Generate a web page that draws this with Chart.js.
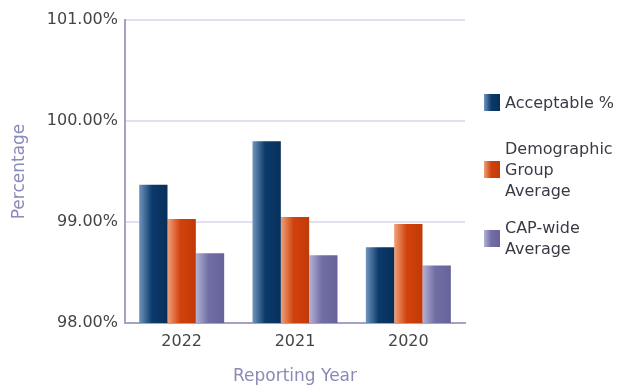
<!DOCTYPE html>
<html>
<head>
<meta charset="utf-8">
<script src="https://cdn.jsdelivr.net/npm/chart.js@4/dist/chart.umd.min.js"></script>
<style>
  html, body { margin: 0; padding: 0; background: #fff; }
  #wrap { position: relative; width: 623px; height: 388px; }
  #legend { position: absolute; left: 484px; top: 0; font-family: "DejaVu Sans", sans-serif; font-size: 16px; color: #3a3a46; }
  .item { position: absolute; left: 0; display: flex; align-items: center; white-space: nowrap; }
  .swatch { width: 16px; height: 17px; margin-right: 5px; flex: none; }
  .txt { line-height: 21px; }
</style>
</head>
<body>
<div id="wrap">
  <canvas id="c" width="623" height="388"></canvas>
  <div id="legend"></div>
</div>
<script>
// Reporting years and the three measured series (percent)
const years = ["2022", "2021", "2020"];
const acceptable = [99.37, 99.80, 98.75];
const demographicAvg = [99.03, 99.05, 98.98];
const capWideAvg = [98.69, 98.67, 98.57];
const seriesNames = ["Acceptable %", "Demographic Group Average", "CAP-wide Average"];
const legendLines = [["Acceptable %"], ["Demographic", "Group", "Average"], ["CAP-wide", "Average"]];

// Bar shading: light left edge fading into the base colour
const shades = [
  { edge: "#7195bd", base: "#0b3a6c", dark: "#082f5a" },
  { edge: "#f0a07a", base: "#d0420c", dark: "#c23a08" },
  { edge: "#b3b2d6", base: "#706ea2", dark: "#65639a" }
];

const barShade = {
  id: "barShade",
  beforeDatasetsDraw(chart) {
    const ctx = chart.ctx;
    chart.data.datasets.forEach((ds, di) => {
      const meta = chart.getDatasetMeta(di);
      const s = shades[di];
      meta.data.forEach(el => {
        const x0 = el.x - el.width / 2, x1 = el.x + el.width / 2;
        const g = ctx.createLinearGradient(x0, 0, x1, 0);
        g.addColorStop(0, s.edge);
        g.addColorStop(0.45, s.base);
        g.addColorStop(1, s.dark);
        el.options = Object.assign({}, el.options, { backgroundColor: g });
      });
    });
  }
};

const font = "'DejaVu Sans', sans-serif";

new Chart(document.getElementById("c"), {
  type: "bar",
  data: {
    labels: years,
    datasets: [
      { label: seriesNames[0], data: acceptable, backgroundColor: shades[0].base },
      { label: seriesNames[1], data: demographicAvg, backgroundColor: shades[1].base },
      { label: seriesNames[2], data: capWideAvg, backgroundColor: shades[2].base }
    ]
  },
  options: {
    responsive: false,
    animation: false,
    layout: { padding: { top: 20, right: 158, bottom: 0, left: 0 } },
    datasets: { bar: { barPercentage: 1, categoryPercentage: 0.75, borderWidth: 0 } },
    plugins: { legend: { display: false }, tooltip: { enabled: false } },
    scales: {
      x: {
        grid: { display: false, drawTicks: false },
        border: { color: "#a3a3c9", width: 2 },
        ticks: { color: "#454545", font: { family: font, size: 16 }, padding: 9 },
        title: { display: true, text: "Reporting Year", color: "#8a8ab6", font: { family: font, size: 17 }, padding: { top: 10, bottom: 1 } },
        afterFit(scale) { scale.height = 65; }
      },
      y: {
        min: 98,
        max: 101,
        grid: { color: "#e0e0ee", lineWidth: 2, drawTicks: false },
        border: { color: "#a3a3c9", width: 2 },
        ticks: {
          stepSize: 1,
          color: "#454545",
          font: { family: font, size: 16 },
          padding: 7,
          callback: v => v.toFixed(2) + "%"
        },
        title: { display: true, text: "Percentage", color: "#8a8ab6", font: { family: font, size: 17 }, padding: { top: 9, bottom: 0 } },
        afterFit(scale) { scale.width = 125; }
      }
    }
  },
  plugins: [barShade]
});

// Legend on the right, wrapped the way the labels are set
const tops = [92, 138, 217];
const legend = document.getElementById("legend");
legendLines.forEach((lines, i) => {
  const item = document.createElement("div");
  item.className = "item";
  item.style.top = tops[i] + "px";
  const sw = document.createElement("div");
  sw.className = "swatch";
  sw.style.background = "linear-gradient(to right, " + shades[i].edge + ", " + shades[i].base + " 45%, " + shades[i].dark + ")";
  const t = document.createElement("div");
  t.className = "txt";
  t.innerHTML = lines.join("<br>");
  item.appendChild(sw);
  item.appendChild(t);
  legend.appendChild(item);
});
</script>
</body>
</html>
